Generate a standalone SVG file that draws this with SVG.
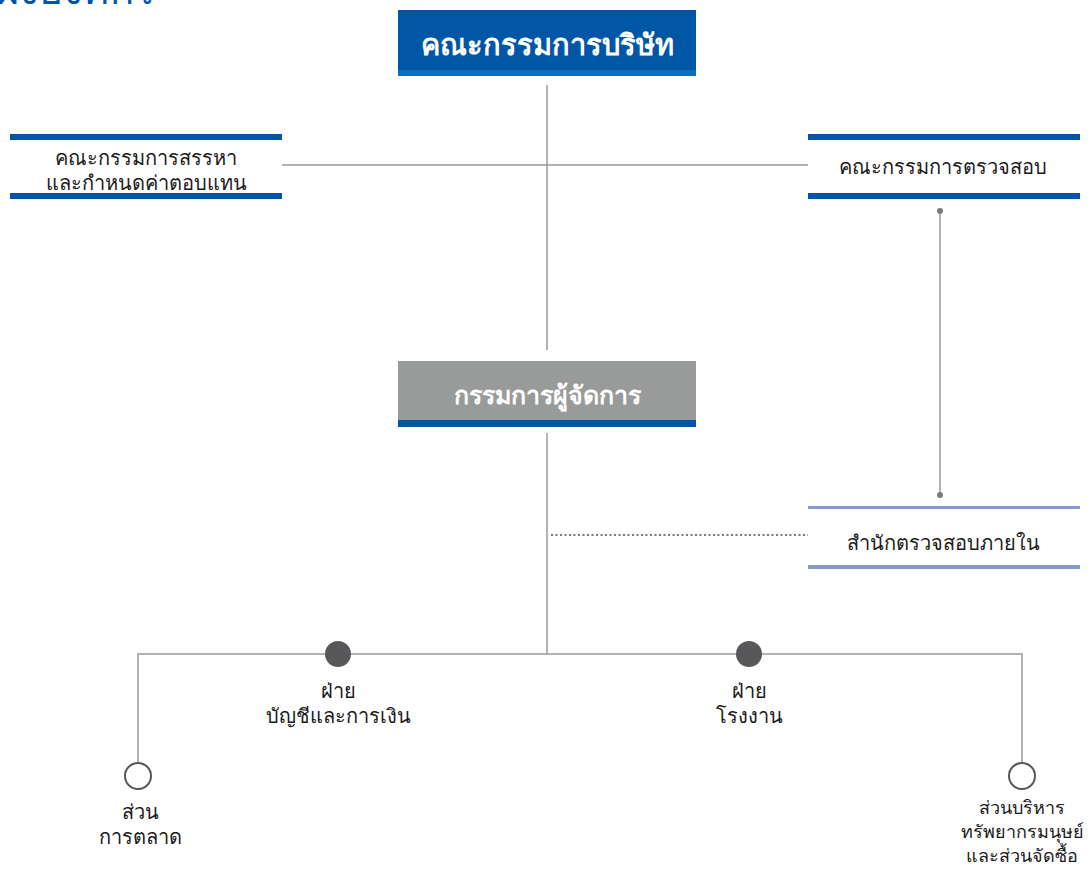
<svg xmlns="http://www.w3.org/2000/svg" width="1091" height="871" viewBox="0 0 1091 871">
<style>
.t{font-family:"Noto Sans","Liberation Sans",sans-serif;fill:#1a1a1a;font-size:20px;text-anchor:middle}
.s{font-size:18px}
.h{font-family:"Noto Sans","Liberation Sans",sans-serif;fill:#fff;font-weight:bold;text-anchor:middle}
.ln{stroke:#9a9a9a;stroke-width:1.5;fill:none}
.blue{fill:#0056a6}
.lb{fill:#8499d0}
</style>
<rect width="1091" height="871" fill="#fff"/>
<text x="-4" y="4" style="font-family:'Noto Sans',sans-serif;font-size:40px;fill:#0056a6">ผังองค์กร</text>
<g id="connectors">
<line class="ln" x1="547" y1="85" x2="547" y2="350"/>
<line class="ln" x1="282" y1="165" x2="808" y2="165"/>
<line class="ln" x1="940" y1="211" x2="940" y2="495"/>
<circle cx="940" cy="211" r="3" fill="#7a7a7a"/>
<circle cx="940" cy="495" r="3" fill="#7a7a7a"/>
<line class="ln" x1="547" y1="433" x2="547" y2="654"/>
<line x1="551" y1="535" x2="808" y2="535" stroke="#7a7a7a" stroke-width="2" stroke-dasharray="2,2.5"/>
<polyline class="ln" points="138,763 138,654 1022,654 1022,763"/>
</g>
<g id="board">
<rect x="398" y="10" width="298" height="66" class="blue"/>
<rect x="398" y="70" width="298" height="6" fill="#0a6fba"/>
<text x="547" y="55" class="h" font-size="29">คณะกรรมการบริษัท</text>
</g>
<g id="nomination">
<rect x="10" y="134" width="272" height="6" class="blue"/>
<rect x="10" y="193" width="272" height="6" class="blue"/>
<text x="146" y="165" class="t">คณะกรรมการสรรหา</text>
<text x="146" y="190" class="t">และกำหนดค่าตอบแทน</text>
</g>
<g id="audit">
<rect x="808" y="134" width="272" height="6" class="blue"/>
<rect x="808" y="193" width="272" height="6" class="blue"/>
<text x="943" y="174" class="t">คณะกรรมการตรวจสอบ</text>
</g>
<g id="md">
<rect x="398" y="361" width="298" height="66" fill="#999b9a"/>
<rect x="398" y="420" width="298" height="7" class="blue"/>
<text x="547" y="404" class="h" font-size="25">กรรมการผู้จัดการ</text>
</g>
<g id="internal-audit">
<rect x="808" y="506" width="272" height="3" class="lb"/>
<rect x="808" y="565" width="272" height="4" class="lb"/>
<text x="943" y="550" class="t">สำนักตรวจสอบภายใน</text>
</g>
<g id="finance">
<circle cx="338" cy="654" r="13" fill="#58585a"/>
<text x="338" y="698" class="t">ฝ่าย</text>
<text x="338" y="723" class="t">บัญชีและการเงิน</text>
</g>
<g id="factory">
<circle cx="749" cy="654" r="13" fill="#58585a"/>
<text x="749" y="698" class="t">ฝ่าย</text>
<text x="749" y="723" class="t">โรงงาน</text>
</g>
<g id="marketing">
<circle cx="138" cy="776" r="13" fill="#fff" stroke="#58585a" stroke-width="2"/>
<text x="140" y="819" class="t">ส่วน</text>
<text x="140" y="844" class="t">การตลาด</text>
</g>
<g id="hr">
<circle cx="1022" cy="776" r="13" fill="#fff" stroke="#58585a" stroke-width="2"/>
<text x="1022" y="814" class="t s">ส่วนบริหาร</text>
<text x="1022" y="838" class="t s">ทรัพยากรมนุษย์</text>
<text x="1022" y="862" class="t s">และส่วนจัดซื้อ</text>
</g>
</svg>
